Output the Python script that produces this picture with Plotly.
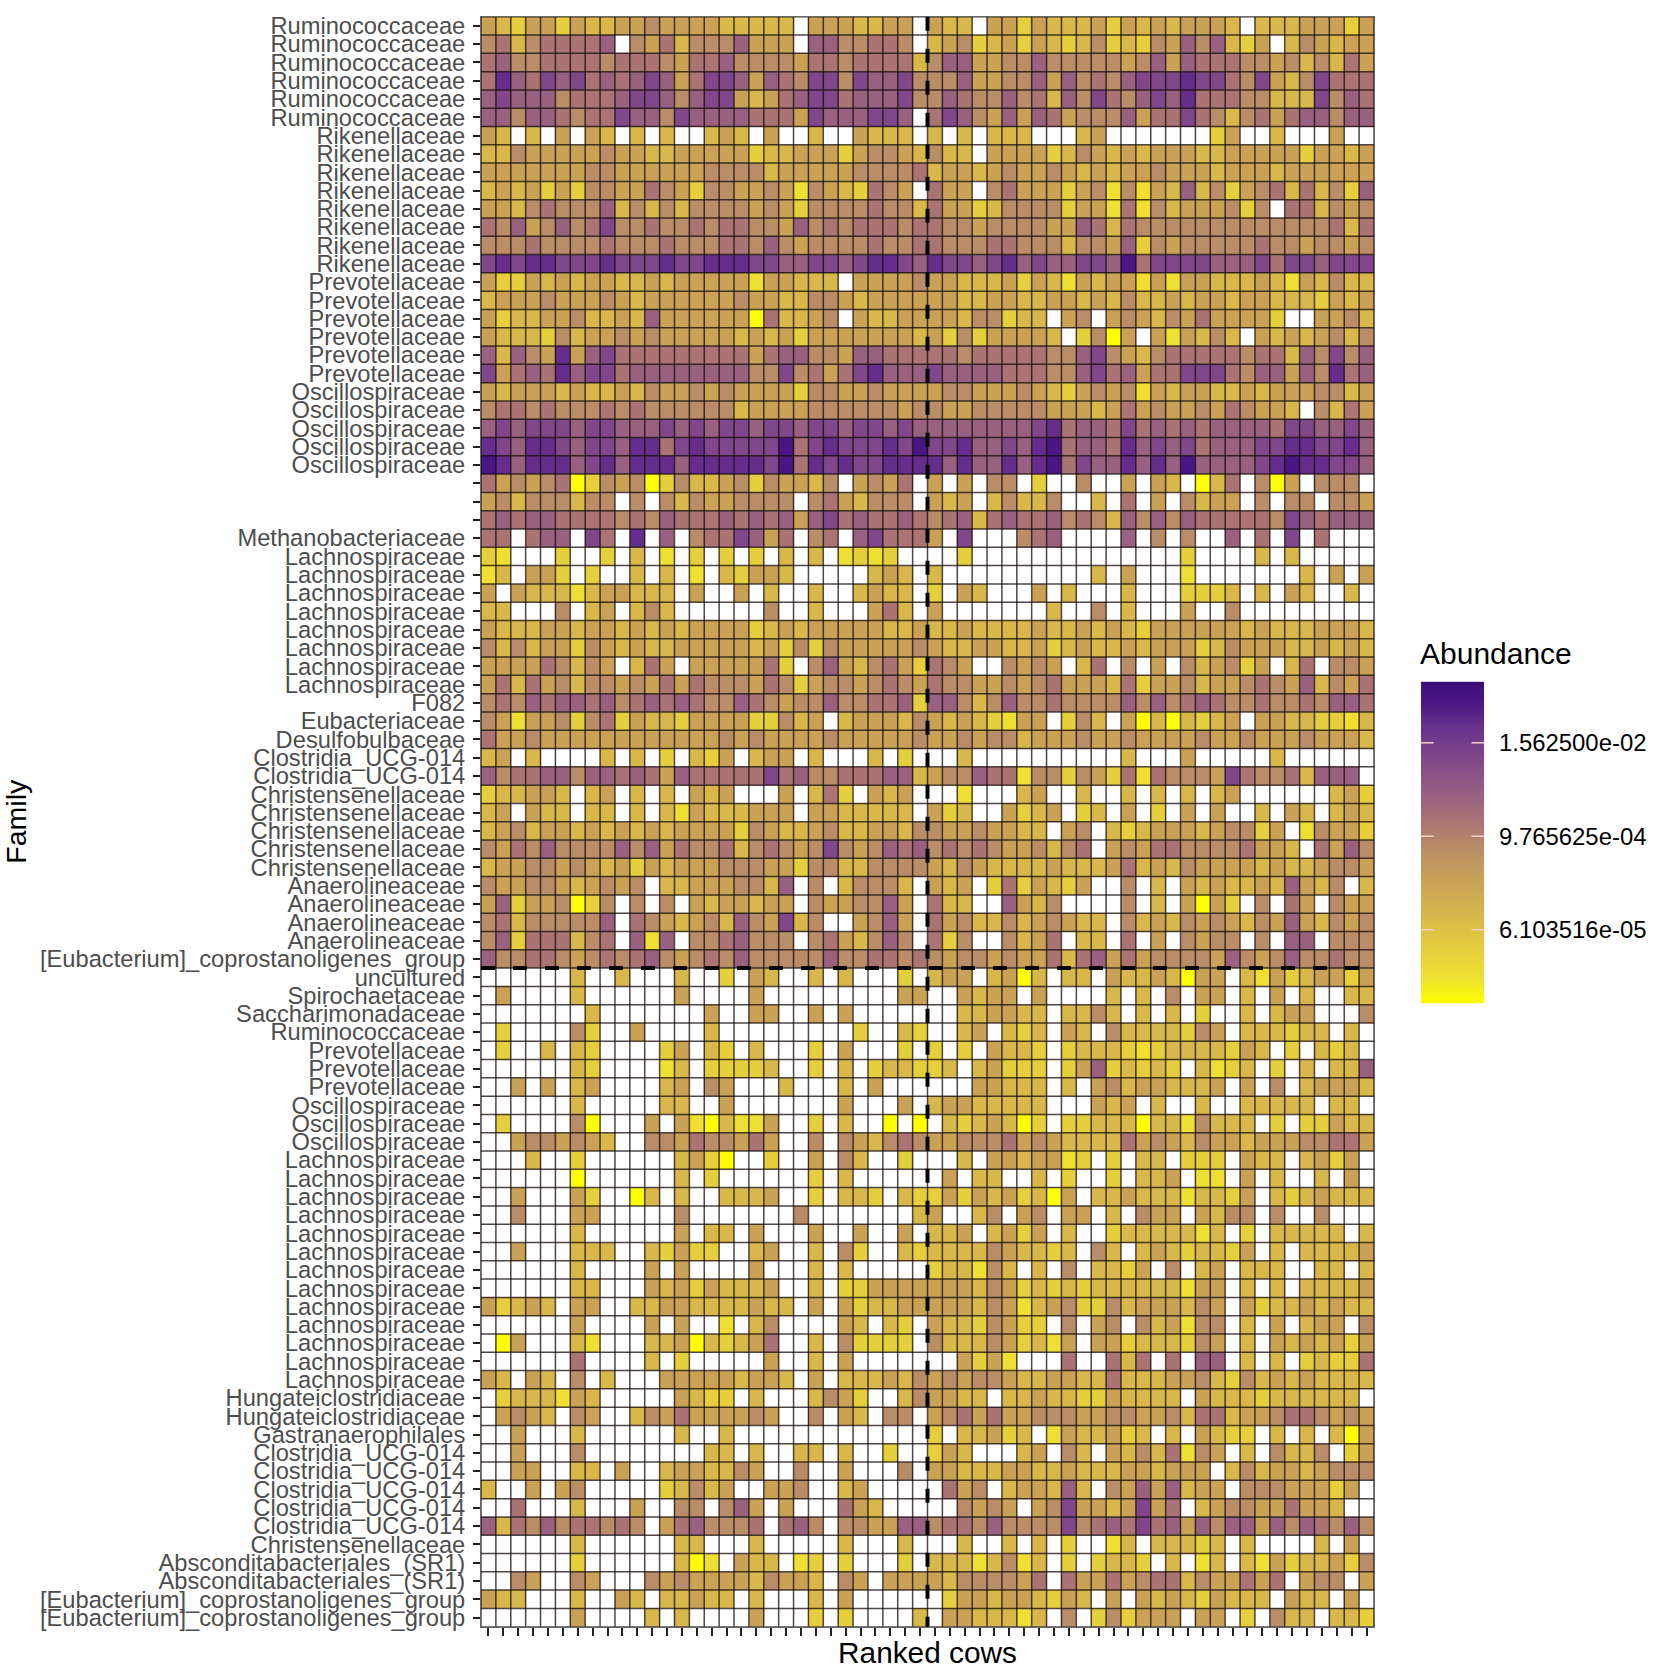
import numpy as np
import plotly.graph_objects as go

# row labels, top to bottom
FAMILIES = (
    ["Ruminococcaceae"] * 6 + ["Rikenellaceae"] * 8 + ["Prevotellaceae"] * 6
    + ["Oscillospiraceae"] * 5 + [""] * 3 + ["Methanobacteriaceae"]
    + ["Lachnospiraceae"] * 8 + ["F082", "Eubacteriaceae", "Desulfobulbaceae"]
    + ["Clostridia_UCG-014"] * 2 + ["Christensenellaceae"] * 5
    + ["Anaerolineaceae"] * 4 + ["[Eubacterium]_coprostanoligenes_group"]
    + ["uncultured", "Spirochaetaceae", "Saccharimonadaceae", "Ruminococcaceae"]
    + ["Prevotellaceae"] * 3 + ["Oscillospiraceae"] * 3 + ["Lachnospiraceae"] * 13
    + ["Hungateiclostridiaceae"] * 2 + ["Gastranaerophilales"]
    + ["Clostridia_UCG-014"] * 5 + ["Christensenellaceae"]
    + ["Absconditabacteriales_(SR1)"] * 2 + ["[Eubacterium]_coprostanoligenes_group"] * 2
)

# log2(abundance) read off the colour of a cell, '.' = not detected
LEVELS = {"0": -17.1, "1": -16.0, "2": -14.9, "3": -13.4, "4": -11.9, "5": -10.5,
          "6": -9.4, "7": -8.3, "8": -6.7, "9": -5.2, "a": -4.2}

# one string per family, 60 cows, groups of ten
CELLS = [
    "4324424334 4544443333 3.4443344. 433.442433 3424343444 3.33344424",
    "563566667. 5463555744 4.7755665. 3452342432 3523254757 324.354344",
    "6755666656 6654667555 5466566663 5774455755 5554574766 6554535364",
    "6976878676 7874688747 6588587785 5574455747 5657888988 6584358666",
    "7877756667 8875788434 6788677785 5765575637 5865787966 6553338576",
    "7757765668 7758777766 648777887. 6875474764 5557466865 3564677577",
    "43.3.4.43. 3.3..343.4 ..3..4333. 3.3.333... 34.......2 4..3...4..",
    "3354444454 4334444423 3444245543 533.444423 5434344433 4444424434",
    "4444444554 4444455553 4444455556 3443454454 3434454443 4443444444",
    "3434242554 4654255445 415432654. 644.564442 4515143735 2456363527",
    "4435655573 5353555545 4255556553 6442355552 4416153444 525.663545",
    "6574575685 5655656655 4756566656 6554555544 7636555555 5555555636",
    "5556555565 5565556657 5455556556 6555665553 5547254555 5565545545",
    "8989988898 8898899988 7788789987 9887897877 887a688887 7786887888",
    "4224343443 3434444414 4333.44445 4433342431 4344141443 3343143533",
    "3444544454 3444444544 3355434444 4433443344 3435334344 3443332434",
    "4233445334 3744444406 3345.43344 44355233.4 5.45435464 4442..4453",
    "4333253445 4544444343 4244444443 425244443. 2504.41435 3.43434535",
    "7375494786 6666666646 7755477666 6656666655 7854356666 6566375857",
    "8467697886 7777777755 8564689777 8777766655 7867466888 6577475967",
    "4344434334 3544545444 4255445444 4554445432 4545143443 3434445534",
    "5665655565 6555555344 4455555545 5445555544 4346454454 65443.5364",
    "7878887887 7787878878 8788788787 7777777896 7768676767 7776887787",
    "9879987887 9968988888 a68988898a 88977879a6 7769787867 7788998897",
    "a979997897 9997999998 a698988999 97977979a6 8779797a77 7789a99887",
    "6454560254 5025334525 4435.4546. 4.4.55.2.. 5..4.43.03 6.504.555.",
    "453555355. 5.53544555 5.5643555. 434.35335. .3.6.4.534 4.5.55.554",
    "6767766665 6576667676 7478676676 5673676675 6537575766 6665876777",
    "66.677.86. 9.7.566874 6.56.78666 4.8...567. ...7.5.5.. 7.6.8.6...",
    "21...2..2. 3.1.2.2.2. 3.3.1212.. ..2....... .......2.. ..3.3.....",
    "13.442.2.. 3.3.1.3244 3.....343. 3......... .3.4...1.. .....3.4.4",
    "4.43331344 333.4..4.3 ..3..3433. 2.43...4.3 ...3...222 3.3.43..3.",
    "33...5.34. 353......5 ..3...463. 4.......3. .5.3...4.. 5.........",
    "4333443443 4343444423 4344444334 3343333433 4343244444 4343334443",
    "5353442543 4334444434 2525444445 4334433423 4334344423 5444334343",
    "444465354. 364.444446 2.57435642 654..5454. 36.5.4.534 524.36.554",
    "4636453554 5464655546 5245545654 6554454564 4436244534 4565473546",
    "5657677675 6767655765 4557556672 7753575565 5557575676 5565565776",
    "5414452562 4332444422 534.344435 43432144.2 53.4030323 4.44332213",
    "6445444444 4444445454 4445444445 4454553444 5445444454 4544454443",
    "34.3....3. 3.2.324.34 4.3...3.2. ..3....... ...3...4.. ...3......",
    "7566775776 7647666668 6755666773 4557661552 5426165554 865563777.",
    "233443.34. 3.3.434... 4.362.434. ..1...34.. 3..3.3.3.3 4......342",
    "34.433.33. 3.31433344 4.4433333. 423..4234. 23.4.2.4.4 ..3.43.343",
    "3453443434 3434444254 3345334435 54454433.4 5.32344434 5524.15442",
    "5465755557 5746556356 5458545767 5656544535 6.45466555 56443.6475",
    "3445545434 2434445554 4255335555 4354333343 3346343544 4434334554",
    "5445543454 5.33444553 7.5.35553. 434.262432 4..5.3.434 33437435.3",
    "472445025. 5.5.434434 4.5445574. 633..7435. ...5.3.404 2.5.64.544",
    "563555557. 6543453754 835..4574. 6453353454 33.5343545 4354743545",
    "572666356. 717.556755 5.5643575. 625..5346. 33.6.4.545 5.5.77.555",
    "7556654565 6754565755 5557556656 5455454463 6746455554 7545755655",
    "......3..3 ...3..2.43 ..3.3...2. 344.3403.3 3.43343044 .314234424",
    ".4....3... ...4....4. ........44 ..4344.4.. ..3.3.5.44 .3.4.3..33",
    ".......3.. .....4..44 ..4.4..... ..334433.3 353.3.3.2. .3.344...5",
    ".2....52.. 4....3.... .....2..32 ..34.323.4 3.53333254 .333233.3.",
    ".2..3.32.. ..24.32.3. ..2.4...2. 2.2.4332.2 3332123333 243.2.323.",
    "......32.. ..13.22223 ..2.3.2332 23.34222.2 4723232.31 23.2.3.337",
    "..4.4.34.. ..34.54... 3...3.4... ...44333.3 .453443334 .4.5.34443",
    "......3... ..33..4... ....4...4. 34433333.. .434.3..3. .33333.33.",
    ".2....50.. .4.4103114 ..2.3..0.0 .3234302.2 2333033153 33.2.22433",
    "..4554543. .554655464 ..5.543565 4455564543 3336454354 4344455664",
    "...3..2... ...3420..2 ..4.53..2. ..3.443441 2.2.33.222 .433.3424.",
    "......0... ...3.2.... ..2.3..... .4.33..3.2 ..2.334.11 .4.3..3.4.",
    "..4...42.. 03.3..3334 ..2.332.32 2424342304 .334333133 24.3234333",
    "..5...44.. ...5...... .5.......3 4..35.45.4 4.3.544.43 55.5..5...",
    "......3... ...4.33.4. ..4..4..4. 334.3424.3 ..23333313 .2.33333.3",
    "..4...333. .32422..34 ..3.52..32 3333543323 .53.343233 24.3.33334",
    "......3... .4.4....4. ..3.3..... 233153.3.5 .3324.5.34 .333..33.3",
    "......33.. .434243334 ..3.224444 4443542323 2333333144 .3.3.33334",
    "42343.44.. 3344333343 3.4.423344 4443541345 2253444354 .423343433",
    "......4... .4.4..1.35 ....43.32. 43325422.5 .45.534155 .3.4.344.5",
    ".04...31.. .334032346 ..3.52222. 5333542314 .442333254 .3.4343424",
    "......6... .3.2.....4 ..3.4..... ..4241...6 ..636.6.77 .3.3.23226",
    "43.43.5.3. ..44444344 3.4.333435 4545543344 3363334453 2534343333",
    ".2333143.. ...4322.3. ..3542..35 4433.33433 2243333.43 332333333.",
    ".4543.54.. 3546444454 ..5.43.55. 4564644555 4455445366 3445665454",
    "..4...3... ...3..3... .......... 2.33423.14 33423.3.43 22.3.3.304",
    "..4...5... .....33.3. .33.3..2.. 243...34.5 3.43536154 .3.5335.24",
    "..44..33.4 ..3443354. .5..4...5. 4433344334 333443444. 3534434555",
    "3..4.45... ..23534..4 45..34.... .645.34437 3.54747344 .55544424.",
    "..6...3... 4..55.574. 4...643... ..5454.458 4434846.34 55446443..",
    "7365756656 5.4675556. 675.554477 5665755558 5676867475 7747576575",
    "......3... ...33...3. ....3...3. ..3..3.3.2 ..13.33323 .3....3.4.",
    "......2... ...301.433 .12.2...2. 33313513.2 .2332.3.13 .314233425",
    "..54..54.. .545444435 443.54.444 43555546.6 4464566354 4646.455.4",
    "433...3..4 3.33433.3. ..3.4..... .244344324 3.4.434324 333.433.4.",
    "......4... .3.3....4. ..2.2....3 .4433313.5 .252444.44 .2.533.332",
]

LEGEND_TICKS = [-6, -10, -14]
LEGEND_LABELS = ["1.562500e-02", "9.765625e-04", "6.103516e-05"]
ZMIN, ZMAX = -17.14, -3.39

COLORSCALE = [
    [0.00, "#FFFF00"], [0.08, "#EFE032"], [0.16, "#E6D03C"], [0.27, "#D8B84A"],
    [0.38, "#C9A256"], [0.48, "#BA8E66"], [0.56, "#AB7574"], [0.64, "#9A6280"],
    [0.76, "#80478A"], [0.87, "#652E8C"], [0.94, "#4A1585"], [1.00, "#3C0F7A"],
]

rows = [c.replace(" ", "") for c in CELLS]
z = [[LEVELS.get(ch, np.nan) for ch in r] for r in rows]

n_rows = len(rows)
n_cols = len(rows[0])
cows = list(range(1, n_cols + 1))
y_pos = list(range(1, n_rows + 1))

# layout in pixels of the page
W, H = 1654, 1673
LEFT, RIGHT, TOP, BOTTOM = 481, 1374, 12.8, 1630.5
BAR_LEFT, BAR_RIGHT, BAR_TOP, BAR_BOTTOM = 1421, 1484, 681, 1004

fig = go.Figure()
fig.add_trace(go.Heatmap(
    x=cows, y=y_pos, z=z,
    zmin=ZMIN, zmax=ZMAX,
    colorscale=COLORSCALE,
    hoverongaps=False,
    showscale=False,
))

# tile borders on top of the cells
gx, gy = [], []
for v in np.arange(0.5, n_cols + 1):
    gx += [v, v, None]
    gy += [0.5, n_rows + 0.5, None]
for v in np.arange(0.5, n_rows + 1):
    gx += [0.5, n_cols + 0.5, None]
    gy += [v, v, None]
fig.add_trace(go.Scatter(
    x=gx, y=gy, mode="lines",
    line=dict(color="rgba(20,10,10,0.75)", width=1.5),
    hoverinfo="skip", showlegend=False,
))

# gradient legend as its own little heatmap, ticks on both edges like ggplot
ramp = np.linspace(ZMIN, ZMAX, 256)
fig.add_trace(go.Heatmap(
    x=[0], y=ramp, z=[[v] for v in ramp],
    zmin=ZMIN, zmax=ZMAX,
    colorscale=COLORSCALE,
    showscale=False, hoverinfo="skip",
    xaxis="x2", yaxis="y2",
))
for t in LEGEND_TICKS:
    for a, b in [(-0.5, -0.3), (0.3, 0.5)]:
        fig.add_shape(type="line", xref="x2", yref="y2", x0=a, x1=b, y0=t, y1=t,
                      line=dict(color="#F3D3C8", width=1.5))

# split lines
DASH = dict(color="black", width=4, dash="14px,18px")
fig.add_shape(type="line", xref="x", yref="y", x0=30.5, x1=30.5, y0=0.5, y1=n_rows + 0.5, line=DASH)
fig.add_shape(type="line", xref="x", yref="y", x0=0.5, x1=n_cols + 0.5, y0=52.5, y1=52.5, line=DASH)

fig.add_annotation(text="Abundance", xref="paper", yref="paper",
                   x=BAR_LEFT / W, y=1 - 653 / H, xanchor="left", yanchor="middle", xshift=-3,
                   showarrow=False, font=dict(size=30, color="black"))

fig.update_layout(
    width=W, height=H, autosize=False,
    margin=dict(l=0, r=0, t=0, b=0, pad=0),
    plot_bgcolor="white", paper_bgcolor="white",
    font=dict(family="Liberation Sans"),
    showlegend=False,
    xaxis=dict(
        domain=[LEFT / W, RIGHT / W],
        range=[0.5, n_cols + 0.5], tickmode="array", tickvals=cows, ticktext=[""] * n_cols,
        ticks="outside", ticklen=8, tickwidth=2, tickcolor="#222222",
        showgrid=False, zeroline=False, showline=True, mirror=True, linecolor="#666666", linewidth=1,
        title=dict(text="Ranked cows", font=dict(size=29.8, color="black"), standoff=5),
    ),
    yaxis=dict(
        domain=[1 - BOTTOM / H, 1 - TOP / H],
        range=[n_rows + 0.5, 0.5], tickmode="array", tickvals=y_pos, ticktext=FAMILIES,
        ticks="outside", ticklen=7, tickwidth=2, tickcolor="#222222",
        tickfont=dict(size=23.7, color="#4D4D4D"), ticklabelstandoff=3,
        showgrid=False, zeroline=False, showline=True, mirror=True, linecolor="#666666", linewidth=1,
        title=dict(text="Family", font=dict(size=28.5, color="black"), standoff=4),
    ),
    xaxis2=dict(
        domain=[BAR_LEFT / W, BAR_RIGHT / W], anchor="y2", range=[-0.5, 0.5],
        showticklabels=False, ticks="", showgrid=False, zeroline=False, showline=False,
    ),
    yaxis2=dict(
        domain=[1 - BAR_BOTTOM / H, 1 - BAR_TOP / H], anchor="x2", side="right", range=[ZMIN, ZMAX],
        tickmode="array", tickvals=LEGEND_TICKS, ticktext=LEGEND_LABELS,
        tickfont=dict(size=23.9, color="black"), ticks="", ticklabelstandoff=14,
        showgrid=False, zeroline=False, showline=False,
    ),
)

fig.write_html("out.html", config={"displayModeBar": False},
               post_script="document.body.style.margin='0';")
